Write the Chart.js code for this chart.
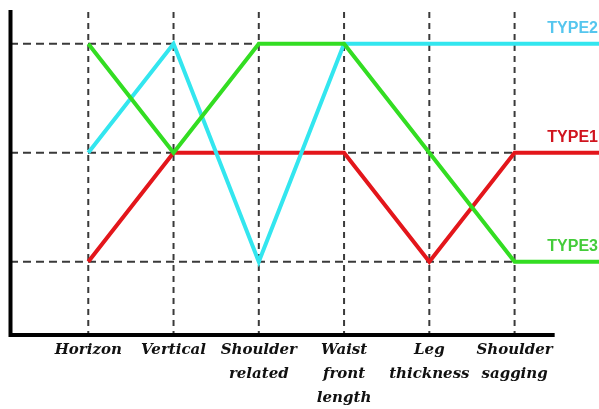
<!DOCTYPE html>
<html>
<head>
<meta charset="utf-8">
<script src="https://cdn.jsdelivr.net/npm/chart.js@4.4.1/dist/chart.umd.min.js"></script>
<style>
  html, body { margin: 0; padding: 0; background: #fff; }
  #wrap { width: 599px; height: 409px; }
</style>
</head>
<body>
<div id="wrap"><canvas id="chart"></canvas></div>
<script>
// categories along the bottom
const categorias = ["Horizon", "Vertical", ["Shoulder", "related"], ["Waist", "front", "length"], ["Leg", "thickness"], ["Shoulder", "sagging"]];
// level of each type per category (1 = low, 3 = high)
const type1 = [1, 2, 2, 2, 1, 2];
const type2 = [2, 3, 1, 3, 3, 3];
const type3 = [3, 2, 3, 3, 2, 1];
const niveles = [1, 2, 3];
const nombres = ["TYPE1", "TYPE2", "TYPE3"];

// axis ranges
const xMin = -0.918, xMax = 5.99;
const yMin = 0.327, yMax = 3.309;
const finEje = 5.47; // where the bottom axis stops

const colLinea = ["#e3161b", "#33e6ef", "#33dd22"];
const colTexto = ["#d0141e", "#55c6ee", "#44cc3a"];

// points for a series, plus the run-out to the right edge
function puntos(serie) {
  const p = serie.map((v, i) => ({ x: i, y: v }));
  p.push({ x: xMax, y: serie[serie.length - 1] });
  return p;
}

const guias = {
  id: "guias",
  beforeDatasetsDraw(chart) {
    const ctx = chart.ctx;
    const a = chart.chartArea;
    const x = chart.scales.x, y = chart.scales.y;
    ctx.save();
    ctx.strokeStyle = "#3a3a3a";
    ctx.lineWidth = 2;
    ctx.setLineDash([8, 5]);
    // horizontal guides
    const xFin = x.getPixelForValue(categorias.length - 1);
    niveles.forEach((n) => {
      const py = y.getPixelForValue(n);
      ctx.beginPath();
      ctx.moveTo(a.left, py);
      ctx.lineTo(xFin, py);
      ctx.stroke();
    });
    // vertical guides
    ctx.setLineDash([6, 5]);
    categorias.forEach((c, i) => {
      const px = x.getPixelForValue(i);
      ctx.beginPath();
      ctx.moveTo(px, a.top + 2);
      ctx.lineTo(px, a.bottom);
      ctx.stroke();
    });
    // axes
    ctx.setLineDash([]);
    ctx.strokeStyle = "#000";
    ctx.lineWidth = 4;
    ctx.beginPath();
    ctx.moveTo(a.left + 0.5, a.top);
    ctx.lineTo(a.left + 0.5, a.bottom);
    ctx.lineTo(x.getPixelForValue(finEje), a.bottom);
    ctx.stroke();
    ctx.restore();
  },
  afterDatasetsDraw(chart) {
    const ctx = chart.ctx;
    ctx.save();
    ctx.font = "bold 16px 'Liberation Sans', Arial, sans-serif";
    ctx.textAlign = "right";
    ctx.textBaseline = "middle";
    chart.data.datasets.forEach((ds, i) => {
      const meta = chart.getDatasetMeta(i);
      const ult = meta.data[meta.data.length - 1];
      ctx.fillStyle = ds.colorTexto;
      ctx.fillText(ds.label, chart.chartArea.right - 1, ult.y - 15);
    });
    ctx.restore();
  }
};

const series = [type1, type2, type3];
const data = {
  datasets: series.map((s, i) => ({
    label: nombres[i],
    data: puntos(s),
    borderColor: colLinea[i],
    colorTexto: colTexto[i],
    borderWidth: 4,
    pointRadius: 0,
    tension: 0,
    order: [2, 1, 0][i],
  })),
};

const config = {
  type: "line",
  data: data,
  options: {
    responsive: false,
    animation: false,
    devicePixelRatio: 1,
    layout: { padding: { left: 10, top: 10, right: 0, bottom: 0 } },
    plugins: { legend: { display: false }, tooltip: { enabled: false } },
    scales: {
      x: {
        type: "linear",
        min: xMin,
        max: xMax,
        grid: { display: false, drawTicks: false },
        border: { display: false },
        afterFit: (s) => { s.height = 74; },
        ticks: {
          stepSize: 1,
          includeBounds: false,
          autoSkip: false,
          maxRotation: 0,
          padding: 3,
          color: "#111",
          font: { family: "'DejaVu Serif', serif", size: 15, style: "italic", weight: "bold", lineHeight: 1.6 },
          callback: (v) => (Number.isInteger(v) && v >= 0 && v < categorias.length ? categorias[v] : ""),
        },
      },
      y: {
        display: false,
        min: yMin,
        max: yMax,
      },
    },
  },
};

const canvas = document.getElementById("chart");
canvas.width = 599;
canvas.height = 409;
const chart = new Chart(canvas, { ...config, plugins: [guias] });
</script>
</body>
</html>
